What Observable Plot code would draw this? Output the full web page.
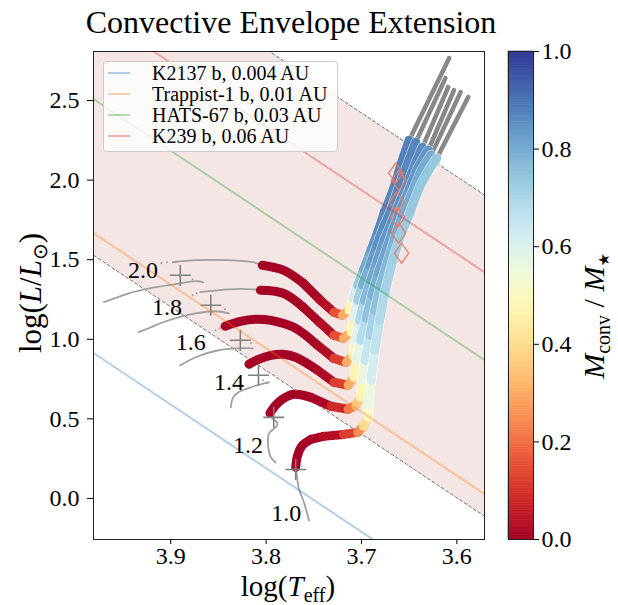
<!DOCTYPE html>
<html><head><meta charset="utf-8">
<script src="https://cdn.jsdelivr.net/npm/d3@7"></script>
<script src="https://cdn.jsdelivr.net/npm/@observablehq/plot@0.6"></script>
<style>
body{margin:0;background:#fff;}
#wrap{position:relative;width:618px;height:605px;overflow:hidden;background:#fff;}
</style></head><body><div id="wrap"></div>
<script>
// ---------------- data (logTeff, logL, Mconv/M*) ----------------
const titleText = "Convective Envelope Extension";
const xDomain = [3.981, 3.571];
const yDomain = [-0.258, 2.808];
const xTicks = [3.9, 3.8, 3.7, 3.6];
const yTicks = [0, 0.5, 1.0, 1.5, 2.0, 2.5];
const cbTicks = [0, 0.2, 0.4, 0.6, 0.8, 1.0];

const massLabels = ["1.0", "1.2", "1.4", "1.6", "1.8", "2.0"];
const labelT = [3.779, 3.819, 3.839, 3.879, 3.904, 3.929];
const labelL = [-0.094, 0.333, 0.730, 0.981, 1.201, 1.434];
const zamsT = [3.769, 3.792, 3.808, 3.827, 3.858, 3.890];
const zamsL = [0.182, 0.509, 0.774, 0.994, 1.214, 1.402];

// thin grey parts of the tracks
const ms_10 = [[3.755,-0.138],[3.760,-0.031],[3.766,0.069],[3.768,0.157],[3.769,0.189]];
const ms_12 = [[3.790,0.226],[3.795,0.258],[3.798,0.346],[3.797,0.409],[3.790,0.447],[3.788,0.472],[3.793,0.503],[3.796,0.535]];
const ms_14 = [[3.837,0.572],[3.835,0.629],[3.829,0.667],[3.816,0.698],[3.802,0.723],[3.797,0.730]];
const ms_16 = [[3.890,0.836],[3.874,0.887],[3.850,0.931],[3.829,0.943],[3.814,0.943]];
const ms_18 = [[3.934,1.044],[3.921,1.075],[3.908,1.107],[3.892,1.138],[3.874,1.163],[3.853,1.176],[3.839,1.163]];
const gap_18 = [[3.869,1.296],[3.839,1.314],[3.814,1.314],[3.806,1.308]];
const ms_20 = [[3.970,1.233],[3.944,1.289],[3.921,1.321],[3.895,1.346],[3.874,1.365],[3.866,1.358]];
const gap_20 = [[3.898,1.484],[3.874,1.497],[3.839,1.497],[3.814,1.484],[3.804,1.465]];
const hookDots = [[3.910,1.478],[3.904,1.484],[3.877,1.377],[3.871,1.365],[3.877,1.277],[3.873,1.289],[3.843,1.189],
                  [3.853,1.057],[3.849,1.069],[3.816,0.975],[3.803,0.742],[3.799,0.723]];

// thick coloured parts (logT, logL, Mconv/M*)
const conv_20 = [[3.804,1.465,0],[3.782,1.434,0],[3.761,1.352,0.01],[3.743,1.245,0.03],[3.729,1.170,0.15],[3.720,1.151,0.3],[3.713,1.182,0.48],
  [3.709,1.258,0.62],[3.704,1.340,0.74],[3.698,1.434,0.8],[3.690,1.560,0.84],[3.683,1.673,0.86],[3.676,1.799,0.87],[3.667,1.937,0.87],[3.659,2.094,0.88],[3.650,2.251,0.88]];
const conv_18 = [[3.806,1.308,0],[3.782,1.289,0],[3.761,1.201,0.01],[3.743,1.101,0.03],[3.729,1.025,0.15],[3.719,1.006,0.3],[3.711,1.044,0.48],
  [3.708,1.132,0.6],[3.704,1.245,0.72],[3.699,1.340,0.79],[3.691,1.465,0.83],[3.684,1.585,0.85],[3.677,1.698,0.86],[3.669,1.811,0.86],[3.661,1.950,0.87],[3.652,2.094,0.87],[3.643,2.239,0.87]];
const conv_16 = [[3.843,1.082,0],[3.827,1.113,0],[3.811,1.126,0],[3.795,1.119,0],[3.771,1.075,0],[3.746,0.962,0.02],[3.729,0.880,0.12],[3.716,0.855,0.3],[3.709,0.899,0.48],
  [3.706,0.994,0.6],[3.702,1.119,0.7],[3.697,1.245,0.77],[3.690,1.371,0.81],[3.683,1.497,0.83],[3.676,1.623,0.84],[3.668,1.736,0.85],[3.661,1.843,0.85],[3.652,1.968,0.86],[3.644,2.094,0.86],[3.636,2.207,0.86]];
const conv_14 = [[3.818,0.843,0],[3.808,0.874,0],[3.795,0.899,0],[3.782,0.906,0],[3.769,0.887,0],[3.746,0.805,0.02],[3.729,0.730,0.12],[3.714,0.711,0.3],[3.708,0.761,0.48],
  [3.705,0.868,0.58],[3.701,0.994,0.68],[3.695,1.132,0.75],[3.689,1.277,0.79],[3.682,1.421,0.81],[3.674,1.560,0.82],[3.667,1.685,0.83],[3.659,1.811,0.83],[3.650,1.937,0.84],[3.641,2.075,0.84],[3.630,2.189,0.84]];
const conv_12 = [[3.796,0.535,0],[3.790,0.585,0],[3.783,0.623,0],[3.771,0.654,0],[3.753,0.635,0.01],[3.732,0.579,0.08],[3.714,0.560,0.22],[3.706,0.585,0.35],[3.701,0.635,0.48],
  [3.699,0.742,0.57],[3.696,0.868,0.65],[3.691,1.025,0.71],[3.686,1.182,0.75],[3.680,1.340,0.77],[3.672,1.497,0.78],[3.665,1.635,0.79],[3.657,1.780,0.8],[3.647,1.918,0.8],[3.638,2.050,0.8],[3.627,2.157,0.8]];
const conv_10 = [[3.769,0.195,0],[3.767,0.270,0],[3.762,0.333,0],[3.753,0.371,0.01],[3.740,0.390,0.03],[3.719,0.402,0.12],[3.704,0.415,0.25],[3.698,0.453,0.4],[3.693,0.509,0.5],
  [3.693,0.585,0.56],[3.690,0.742,0.62],[3.686,0.931,0.66],[3.681,1.119,0.69],[3.675,1.308,0.71],[3.667,1.497,0.72],[3.659,1.654,0.73],[3.649,1.799,0.74],[3.638,1.968,0.74],[3.628,2.075,0.74],[3.621,2.138,0.74]];

// thick grey upper giant branch
const top_20 = [[3.650,2.251],[3.608,2.767]];
const top_18 = [[3.643,2.239],[3.612,2.641]];
const top_16 = [[3.636,2.207],[3.609,2.585]];
const top_14 = [[3.630,2.189],[3.603,2.566]];
const top_12 = [[3.627,2.157],[3.596,2.553]];
const top_10 = [[3.621,2.138],[3.588,2.522]];

// red diamonds
const diamondT = [3.664, 3.661, 3.663, 3.662, 3.661, 3.658];
const diamondL = [2.044, 2.000, 1.862, 1.767, 1.667, 1.541];

// planet lines (endpoints at logT = 4.00 and 3.55)
const planetNames = ["K2137 b, 0.004 AU", "Trappist-1 b, 0.01 AU", "HATS-67 b, 0.03 AU", "K239 b, 0.06 AU"];
const planetColors = ["#1f77b4", "#ff7f0e", "#2ca02c", "#d62728"];
const lineT = [4.00, 3.55];
const planetL_hot = [0.990, 1.743, 2.585, 3.137];
const planetL_cool = [-0.810, -0.057, 0.785, 1.337];
const zoneLow = [1.604, -0.196];
const zoneHigh = [3.622, 1.822];

// ---------------- build tables ----------------
const serif = "'Liberation Serif','Times New Roman',Times,serif";
const thinSets = [["1.0",ms_10],["1.2",ms_12],["1.4",ms_14],["1.6",ms_16],["1.8",ms_18],["1.8g",gap_18],["2.0",ms_20],["2.0g",gap_20]];
const thinRows = thinSets.flatMap(([k, a]) => a.map(([T, L]) => ({k, T, L})));
const convSets = [["2.0",conv_20],["1.8",conv_18],["1.6",conv_16],["1.4",conv_14],["1.2",conv_12],["1.0",conv_10]];
const topSets = [["2.0",top_20],["1.8",top_18],["1.6",top_16],["1.4",top_14],["1.2",top_12],["1.0",top_10]];
const topRows = topSets.flatMap(([k, a]) => a.map(([T, L]) => ({k, T, L})));
const zoneRows = lineT.map((T, j) => ({T, lo: zoneLow[j], hi: zoneHigh[j]}));
const labelRows = massLabels.map((s, i) => ({s, T: labelT[i], L: labelL[i]}));
const zamsRows = zamsT.map((T, i) => ({T, L: zamsL[i]}));
const diamondRows = diamondT.map((T, i) => ({T, L: diamondL[i]}));
const planetMarks = planetNames.map((n, i) =>
  Plot.line(lineT.map((T, j) => ({T, L: j === 0 ? planetL_hot[i] : planetL_cool[i]})),
    {x: "T", y: "L", stroke: planetColors[i], strokeOpacity: 0.35, strokeWidth: 2, clip: true}));

// one mark pair per track: faint white edge under the giant branch, then the coloured line
const trackMarks = convSets.flatMap(([k, a]) => {
  const r = a.map(([T, L, m]) => ({T, L, m}));
  return [
    Plot.line(r.filter(d => d.m >= 0.48), {x: "T", y: "L", stroke: "#fff", strokeOpacity: 0.55, strokeWidth: 10.5, strokeLinecap: "round"}),
    Plot.line(r, {x: "T", y: "L", z: () => k, stroke: "m", strokeWidth: 9, strokeLinecap: "round", strokeLinejoin: "round", curve: "catmull-rom"})
  ];
});

const thinDiamond = {
  draw(context, size) {
    const h = Math.sqrt(size / Math.PI), w = h * 0.72;
    context.moveTo(0, -h); context.lineTo(w, 0); context.lineTo(0, h); context.lineTo(-w, 0); context.closePath();
  }
};

const main = Plot.plot({
  width: 490, height: 605,
  marginLeft: 93, marginRight: 6, marginTop: 51, marginBottom: 66,
  style: {fontFamily: serif, fontSize: "24px", background: "transparent", color: "#000"},
  x: {domain: xDomain, ticks: xTicks, tickFormat: d3.format(".1f"), tickSize: 5, tickPadding: 2, label: null},
  y: {domain: yDomain, ticks: yTicks, tickFormat: d3.format(".1f"), tickSize: 6, tickPadding: 8, label: null},
  color: {type: "linear", scheme: "RdYlBu", domain: [0, 1]},
  marks: [
    Plot.area(zoneRows, {x1: "T", y1: "lo", y2: "hi", fill: "#f5e6e6", clip: true}),
    Plot.line(zoneRows, {x: "T", y: "lo", stroke: "#666", strokeWidth: 0.9, strokeDasharray: "3,2.5", clip: true}),
    Plot.line(zoneRows, {x: "T", y: "hi", stroke: "#666", strokeWidth: 0.9, strokeDasharray: "3,2.5", clip: true}),
    Plot.line(thinRows, {x: "T", y: "L", z: "k", stroke: "#a0a0a0", strokeWidth: 1.8, curve: "catmull-rom"}),
    Plot.dot(hookDots, {x: d => d[0], y: d => d[1], r: 1, fill: "#a0a0a0"}),
    Plot.line(topRows, {x: "T", y: "L", z: "k", stroke: "#888", strokeWidth: 4.5}),
    ...trackMarks,
    Plot.dot(zamsRows, {x: "T", y: "L", symbol: "plus", r: 6.8, stroke: "#808080", strokeWidth: 1.6}),
    ...planetMarks,
    Plot.dot(diamondRows, {x: "T", y: "L", symbol: thinDiamond, r: 10, fill: "none", stroke: "#f07860", strokeWidth: 1.2}),
    Plot.text(labelRows, {x: "T", y: "L", text: "s", fontSize: 24, fontFamily: serif, fill: "#000"}),
    Plot.frame({stroke: "#222"})
  ]
});
main.style.position = "absolute"; main.style.left = "0px"; main.style.top = "0px";
document.getElementById("wrap").appendChild(main);

const cbSteps = d3.range(0, 1, 0.005);
const cb = Plot.plot({
  width: 128, height: 605,
  marginLeft: 18, marginRight: 85, marginTop: 51, marginBottom: 66,
  style: {fontFamily: serif, fontSize: "24px", background: "transparent", color: "#000"},
  x: {axis: null, domain: [0, 1]},
  y: {domain: [0, 1], ticks: cbTicks, tickFormat: d3.format(".1f"), axis: "right", tickSize: 5, tickPadding: 3, label: null},
  color: {type: "linear", scheme: "RdYlBu", domain: [0, 1]},
  marks: [
    Plot.rect(cbSteps, {x1: 0, x2: 1, y1: d => d, y2: d => Math.min(1, d + 0.005), fill: d => d + 0.0025, stroke: d => d + 0.0025, strokeWidth: 0.6}),
    Plot.frame({stroke: "#222"})
  ]
});
cb.style.position = "absolute"; cb.style.left = "490px"; cb.style.top = "0px";
document.getElementById("wrap").appendChild(cb);

// ---------------- overlay: title, axis labels, legend ----------------
const ov = d3.select("#wrap").append("svg")
  .attr("width", 618).attr("height", 605)
  .style("position", "absolute").style("left", "0px").style("top", "0px")
  .attr("font-family", serif);

ov.append("text").attr("x", 291).attr("y", 33).attr("text-anchor", "middle").attr("font-size", 32).text(titleText);

const xl = ov.append("text").attr("x", 288).attr("y", 596).attr("text-anchor", "middle").attr("font-size", 29);
xl.append("tspan").text("log(");
xl.append("tspan").attr("font-style", "italic").text("T");
xl.append("tspan").attr("font-size", 20).attr("dy", 6).text("eff");
xl.append("tspan").attr("dy", -6).text(")");

const yl = ov.append("text").attr("transform", "translate(41,293) rotate(-90)").attr("text-anchor", "middle").attr("font-size", 31);
yl.append("tspan").text("log(");
yl.append("tspan").attr("font-style", "italic").text("L");
yl.append("tspan").text("/");
yl.append("tspan").attr("font-style", "italic").text("L");
yl.append("tspan").attr("font-size", 20).attr("dy", 6).attr("font-family", "'DejaVu Sans'").text("\u2299");
yl.append("tspan").attr("dy", -6).text(")");

const cl = ov.append("text").attr("transform", "translate(604,316) rotate(-90)").attr("text-anchor", "middle").attr("font-size", 30);
cl.append("tspan").attr("font-style", "italic").text("M");
cl.append("tspan").attr("font-size", 20).attr("dy", 6).text("conv");
cl.append("tspan").attr("dy", -6).text(" / ");
cl.append("tspan").attr("font-style", "italic").text("M");
cl.append("tspan").attr("font-size", 15).attr("dy", 5).attr("font-family", "'DejaVu Sans'").text("\u2605");

const lg = ov.append("g");
lg.append("rect").attr("x", 103.5).attr("y", 61.5).attr("width", 234).attr("height", 90).attr("rx", 3)
  .attr("fill", "#fff").attr("fill-opacity", 0.8).attr("stroke", "#ccc");
planetNames.forEach((n, i) => {
  const y = 73 + i * 21;
  lg.append("line").attr("x1", 108).attr("x2", 130).attr("y1", y).attr("y2", y)
    .attr("stroke", planetColors[i]).attr("stroke-opacity", 0.35).attr("stroke-width", 2);
  lg.append("text").attr("x", 152).attr("y", y + 7).attr("font-size", 20).text(n);
});
</script></body></html>
